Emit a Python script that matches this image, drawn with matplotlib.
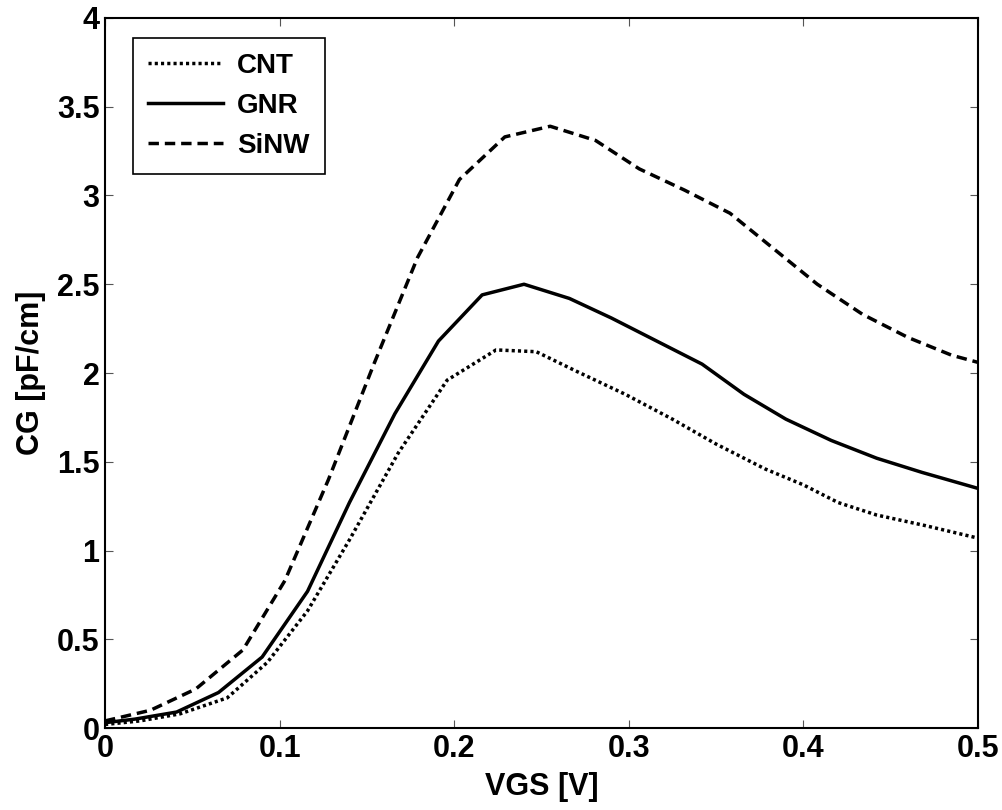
import matplotlib
matplotlib.use('Agg')
import matplotlib.pyplot as plt
from matplotlib.ticker import FuncFormatter

# VGS [V] samples and CG [pF/cm] per device
vgs_cnt = [0, 0.02, 0.043, 0.07, 0.093, 0.116, 0.14, 0.168, 0.196, 0.224,
           0.247, 0.27, 0.298, 0.325, 0.35, 0.378, 0.4, 0.42, 0.442, 0.47, 0.5]
cg_cnt = [0.02, 0.04, 0.08, 0.17, 0.37, 0.66, 1.06, 1.55, 1.96, 2.13,
          2.12, 2.01, 1.88, 1.74, 1.6, 1.46, 1.37, 1.27, 1.2, 1.14, 1.07]

vgs_gnr = [0, 0.017, 0.041, 0.065, 0.09, 0.116, 0.14, 0.166, 0.191, 0.216,
           0.24, 0.266, 0.29, 0.316, 0.342, 0.366, 0.39, 0.416, 0.442, 0.468, 0.5]
cg_gnr = [0.03, 0.05, 0.09, 0.2, 0.4, 0.77, 1.27, 1.77, 2.18, 2.44,
          2.5, 2.42, 2.31, 2.18, 2.05, 1.88, 1.74, 1.62, 1.52, 1.44, 1.35]

vgs_sinw = [0, 0.026, 0.052, 0.079, 0.103, 0.128, 0.154, 0.179, 0.203, 0.229,
            0.255, 0.281, 0.306, 0.332, 0.358, 0.383, 0.408, 0.434, 0.46, 0.485, 0.5]
cg_sinw = [0.04, 0.1, 0.22, 0.44, 0.83, 1.4, 2.05, 2.65, 3.09, 3.33,
           3.39, 3.31, 3.15, 3.03, 2.9, 2.7, 2.5, 2.33, 2.2, 2.1, 2.06]

plt.rcParams['font.family'] = ['Liberation Sans', 'DejaVu Sans']
plt.rcParams['font.weight'] = 'bold'

fig = plt.figure(figsize=(10.03, 8.1), dpi=100)
ax = fig.add_axes([0.1047, 0.1012, 0.8703, 0.8766])

lw = 2.5
ax.plot(vgs_cnt, cg_cnt, color='black', lw=lw, linestyle=(0, (0.9, 0.9)), label='CNT')
ax.plot(vgs_gnr, cg_gnr, color='black', lw=lw, linestyle='-', label='GNR')
ax.plot(vgs_sinw, cg_sinw, color='black', lw=lw, linestyle=(0, (3.0, 1.7)), label='SiNW')

ax.set_xlim(0, 0.5)
ax.set_ylim(0, 4)
ax.set_xticks([0, 0.1, 0.2, 0.3, 0.4, 0.5])
ax.set_yticks([0, 0.5, 1, 1.5, 2, 2.5, 3, 3.5, 4])
fmt = FuncFormatter(lambda v, pos: '%g' % round(v, 3))
ax.xaxis.set_major_formatter(fmt)
ax.yaxis.set_major_formatter(fmt)
ax.tick_params(direction='in', length=6, width=0.8, top=True, right=True,
               labelsize=22, color='#555555', pad=4)
for lab in ax.get_xticklabels() + ax.get_yticklabels():
    lab.set_fontweight('bold')
for s in ax.spines.values():
    s.set_linewidth(1.5)

ax.set_xlabel('VGS [V]', fontsize=22, fontweight='bold', labelpad=6)
ax.set_ylabel('CG [pF/cm]', fontsize=22, fontweight='bold', labelpad=8)

leg = ax.legend(loc='upper left', bbox_to_anchor=(0.032, 0.972), borderaxespad=0,
                fontsize=20, handlelength=2.7, handletextpad=0.5, labelspacing=0.5,
                borderpad=0.55, fancybox=False, framealpha=1, edgecolor='black')
leg.get_frame().set_linewidth(1.2)
for t in leg.get_texts():
    t.set_fontweight('bold')

fig.savefig('out.png', dpi=100)
